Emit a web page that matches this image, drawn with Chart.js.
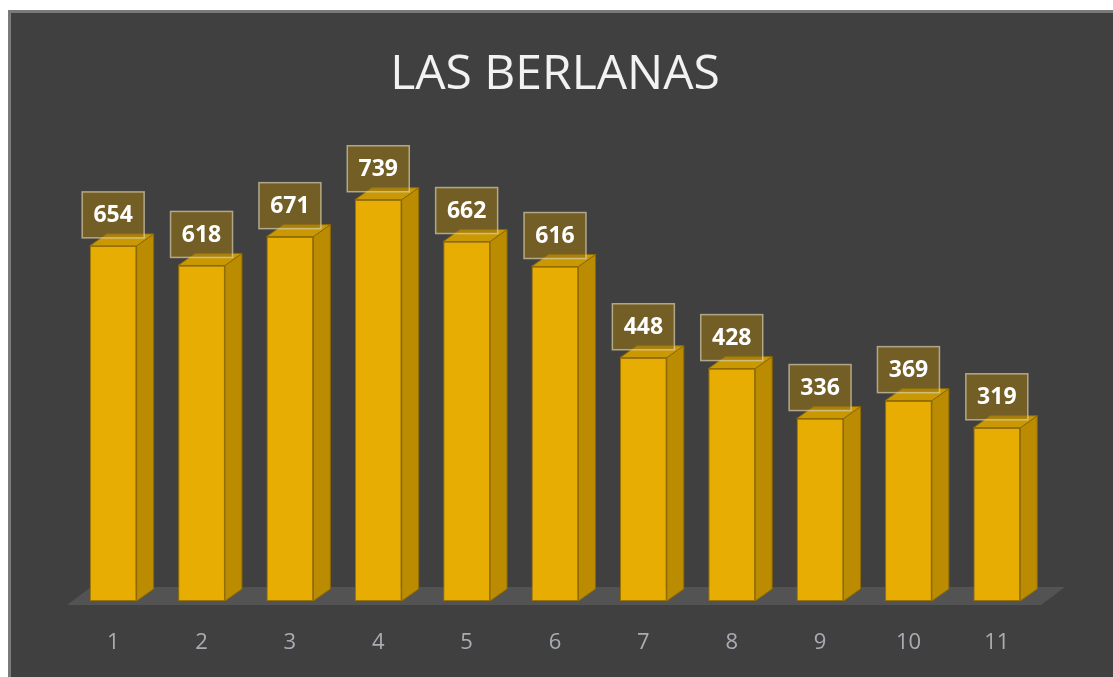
<!DOCTYPE html>
<html>
<head>
<meta charset="utf-8">
<script src="https://cdn.jsdelivr.net/npm/chart.js@4"></script>
<style>
    body { margin: 0; background: #ffffff; }
    #frame {
        position: absolute; left: 8px; top: 10px;
        width: 1102px; height: 664px;
        background: #404040;
        border-left: 3px solid #7a7a7a;
        border-top: 3px solid #7a7a7a;
    }
    canvas { display: block; }
</style>
</head>
<body>
<div id="frame"><canvas id="chart" width="1102" height="664"></canvas></div>
<script>
var labels = ["1", "2", "3", "4", "5", "6", "7", "8", "9", "10", "11"];
var values = [654, 618, 671, 739, 662, 616, 448, 428, 336, 369, 319];
var chart_title = "LAS BERLANAS";

// 3D look: floor, side + top faces, then the boxed value labels
var bar3d = {
    id: "bar3d",
    beforeDatasetsDraw: function (chart) {
        var ctx = chart.ctx;
        var area = chart.chartArea;
        var base = chart.scales.y.getPixelForValue(0);
        ctx.save();
        ctx.fillStyle = "#535353";
        ctx.beginPath();
        ctx.moveTo(area.left - 2, base + 4);
        ctx.lineTo(area.right, base + 4);
        ctx.lineTo(area.right + 24, base - 14);
        ctx.lineTo(area.left + 22, base - 14);
        ctx.closePath();
        ctx.fill();
        ctx.restore();
    },
    afterDatasetsDraw: function (chart) {
        var ctx = chart.ctx;
        var dx = 17, dy = 12;
        var meta = chart.getDatasetMeta(0);
        ctx.save();
        meta.data.forEach(function (bar) {
            var l = bar.x - bar.width / 2;
            var r = bar.x + bar.width / 2;
            var t = bar.y;
            var b = bar.base;
            // side face
            ctx.fillStyle = "#bb8c02";
            ctx.strokeStyle = "#8f6b00";
            ctx.lineWidth = 1;
            ctx.beginPath();
            ctx.moveTo(r, t);
            ctx.lineTo(r + dx, t - dy);
            ctx.lineTo(r + dx, b - dy);
            ctx.lineTo(r, b);
            ctx.closePath();
            ctx.fill();
            ctx.stroke();
            // top face
            ctx.fillStyle = "#c99802";
            ctx.beginPath();
            ctx.moveTo(l, t);
            ctx.lineTo(l + dx, t - dy);
            ctx.lineTo(r + dx, t - dy);
            ctx.lineTo(r, t);
            ctx.closePath();
            ctx.fill();
            ctx.stroke();
        });
        meta.data.forEach(function (bar, i) {
            var w = 62, h = 46;
            var bx = bar.x - w / 2;
            var by = bar.y - 8 - h;
            ctx.fillStyle = "rgba(150,115,20,0.6)";
            ctx.fillRect(bx, by, w, h);
            ctx.strokeStyle = "rgba(225,215,185,0.65)";
            ctx.lineWidth = 1.5;
            ctx.strokeRect(bx, by, w, h);
            ctx.fillStyle = "#ffffff";
            ctx.font = "bold 23px 'Open Sans'";
            ctx.textAlign = "center";
            ctx.textBaseline = "middle";
            ctx.fillText(String(values[i]), bar.x, by + h / 2 + 1);
        });
        ctx.restore();
    }
};

var ctx = document.getElementById("chart").getContext("2d");
var myChart = new Chart(ctx, {
    type: "bar",
    data: {
        labels: labels,
        datasets: [{
            data: values,
            backgroundColor: "#e8ad03",
            borderColor: "#9a7300",
            borderWidth: 1,
            borderSkipped: false,
            categoryPercentage: 1.0,
            barPercentage: 0.53
        }]
    },
    options: {
        responsive: false,
        animation: false,
        layout: {
            padding: { left: 58, right: 72, top: 0, bottom: 22 }
        },
        plugins: {
            legend: { display: false },
            tooltip: { enabled: false },
            title: {
                display: true,
                text: chart_title,
                color: "#f2f2f2",
                font: { family: "'Open Sans'", size: 48, weight: "normal" },
                padding: { top: 34, bottom: 62 }
            }
        },
        scales: {
            x: {
                grid: { display: false, drawTicks: false },
                border: { display: false },
                ticks: {
                    color: "#a9adb3",
                    font: { family: "'Open Sans'", size: 22 },
                    padding: 29
                },
                afterFit: function (scale) { scale.height = 54; }
            },
            y: {
                display: false,
                min: 0,
                max: 800
            }
        }
    },
    plugins: [bar3d]
});
</script>
</body>
</html>
